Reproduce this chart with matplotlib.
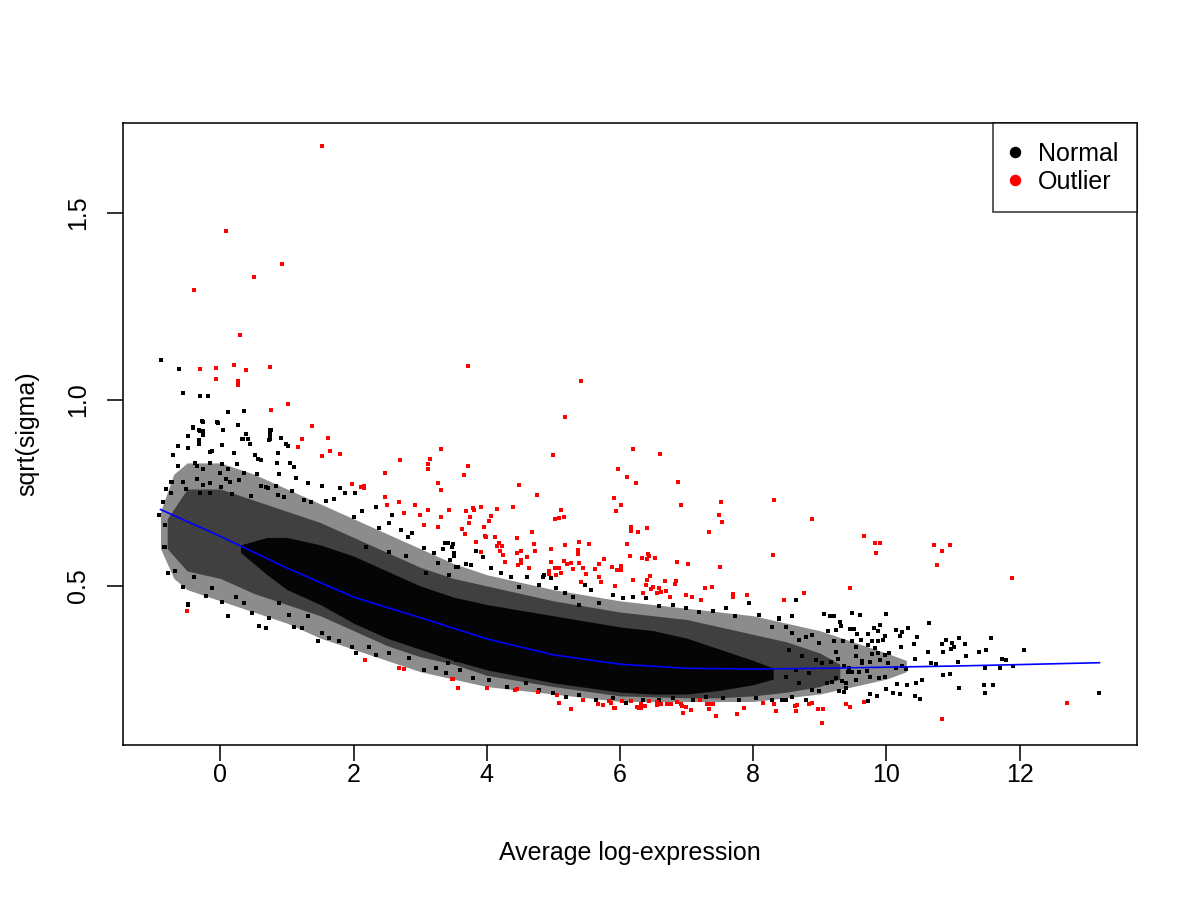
import numpy as np
from matplotlib import pyplot as plt
from matplotlib.lines import Line2D

plt.rcParams['font.family'] = ['Liberation Sans', 'DejaVu Sans']

# trend line (blue)
trend_x = [-0.9, 0, 1, 2, 3, 4, 5, 6, 7, 8, 9, 10, 11, 12, 13.2]
trend_y = [0.705, 0.633, 0.548, 0.470, 0.415, 0.358, 0.315, 0.290, 0.279, 0.277, 0.279, 0.282, 0.285, 0.289, 0.294]

# density bands of the black cloud (sparse / medium / solid)
outer_x = [-0.9, -0.7, -0.5, 0, 0.5, 1, 1.5, 2, 2.5, 3, 3.5, 4, 5, 6, 7, 8, 8.5, 9, 9.5, 10, 10.3]
outer_lo = [0.60, 0.52, 0.49, 0.46, 0.43, 0.40, 0.36, 0.33, 0.30, 0.27, 0.25, 0.23, 0.21, 0.19, 0.19, 0.19, 0.20, 0.21, 0.23, 0.25, 0.27]
outer_hi = [0.70, 0.80, 0.83, 0.83, 0.80, 0.76, 0.72, 0.68, 0.64, 0.60, 0.56, 0.53, 0.49, 0.46, 0.44, 0.42, 0.40, 0.38, 0.35, 0.32, 0.30]

mid_x = [-0.8, -0.5, 0, 0.5, 1, 1.5, 2, 2.5, 3, 3.5, 4, 5, 6, 7, 7.5, 8, 8.5, 9, 9.3]
mid_lo = [0.60, 0.54, 0.52, 0.48, 0.45, 0.42, 0.38, 0.34, 0.31, 0.29, 0.26, 0.23, 0.205, 0.20, 0.20, 0.205, 0.215, 0.23, 0.25]
mid_hi = [0.68, 0.76, 0.76, 0.73, 0.70, 0.67, 0.63, 0.59, 0.55, 0.52, 0.50, 0.46, 0.43, 0.41, 0.39, 0.37, 0.35, 0.32, 0.29]

core_x = [0.3, 0.7, 1.0, 1.5, 2, 2.5, 3, 3.5, 4, 5, 6, 6.5, 7, 7.5, 8, 8.3]
core_lo = [0.59, 0.53, 0.49, 0.45, 0.40, 0.36, 0.33, 0.30, 0.275, 0.24, 0.215, 0.21, 0.21, 0.22, 0.235, 0.25]
core_hi = [0.61, 0.63, 0.63, 0.61, 0.58, 0.54, 0.50, 0.47, 0.45, 0.42, 0.39, 0.38, 0.36, 0.33, 0.30, 0.28]

# loose black points around the cloud
black_x = [-0.90, -0.63, -0.57, -0.31, -0.18, 0.11, 0.35, -0.28, -0.05, 0.26, -0.42, -0.32, -0.27, -0.49, 0.04,
           0.38, 0.76, 0.75, 0.91, 0.34, 0.42, 0.75, -0.33,
           -0.41, -0.27, -0.04, 0.26, -0.49, -0.31, -0.27, 0.04, 0.39, 0.75, 0.74,
           -0.64, -0.49, -0.33, -0.32, 0.03, 0.32, 0.45, 0.73, 0.91, 0.98, 1.02,
           -0.72, -0.16, -0.12, 0.20, 0.52, 0.61, 0.87, 0.85,
           -0.64, -0.38, -0.36, -0.26, -0.16, 0.02, 0.11, 0.25, 0.57, 1.04, 1.11,
           -0.73, -0.56, -0.35, -0.27, -0.15, -0.01, 0.09, 0.15, 0.28, 0.36, 0.55, 0.68, 0.83, 0.88, 1.13, 1.31, 1.53,
           -0.82, -0.74, -0.52, -0.31, -0.16, 0.01, 0.18, 0.46, 0.61, 0.71, 0.86, 0.96, 1.08, 1.26, 1.36, 1.58, 1.70, 1.79, 1.87, 2.02,
           2.33, 2.00, 2.13, 2.57, 2.53, 2.38, 2.71, 2.88, 2.81, 2.18, 2.53, 2.78, 3.06, 3.21, 3.37, 3.48, 3.51, 3.53, 3.43, 3.26, 3.08,
           -0.85, -0.79, -0.69, -0.56, -0.49, -0.40, -0.22, -0.12, 0.03, 0.12, 0.23, 0.36, 0.47, 0.58, 0.69, 0.73, 0.88, 1.03,
           1.11, 1.23, 1.31, 1.46, 1.53, 1.63, 1.78, 1.98, 2.03, 2.23, 2.33, 2.53, 2.83, 3.06, 3.23, 3.41, 3.53,
           -0.92, -0.84, -0.79, -0.82, -0.74, -0.84, -0.87, -0.49,
           3.34, 3.41, 3.49, 3.51, 3.44, 3.56, 3.69, 3.76, 3.84, 3.94, 4.06, 4.21, 4.36, 4.49, 4.61, 4.79, 4.84, 4.96,
           5.04, 5.17, 5.29, 5.39, 5.47, 5.57, 5.69, 5.89, 6.04, 6.19, 6.39, 6.59, 6.79, 6.99, 7.19, 7.39, 7.59, 7.72,
           7.94, 8.09, 8.29, 8.39, 8.59, 8.64, 4.86,
           3.39, 3.59, 3.79, 4.04, 4.31, 4.59, 4.79, 4.99, 5.19, 5.39, 5.64, 5.89, 6.09, 6.34, 6.59, 6.79, 7.09, 7.29,
           7.54, 7.79, 8.04, 8.29, 8.49,
           8.39, 8.49, 8.59, 8.69, 8.79, 8.89, 8.99, 8.54, 8.74, 8.94, 8.49, 8.69, 8.89, 8.59, 8.79, 8.99, 8.44, 8.84, 8.64,
           9.06, 9.15, 9.21, 9.48, 9.61, 10.00, 9.31, 9.32, 9.12, 9.25, 9.45, 9.52, 9.90, 9.81, 9.88, 10.14, 10.23, 10.33,
           10.64, 9.56, 9.73, 9.98, 10.21, 10.46, 10.89, 11.09, 11.57, 10.98, 11.18, 12.07, 9.21, 9.35, 9.49, 9.62, 9.79,
           9.88, 9.95, 10.22, 10.41, 10.84, 11.02, 10.97, 10.62, 10.85, 11.39, 11.49, 11.19, 11.08, 11.74, 11.79, 11.70,
           11.48, 11.90, 10.67, 10.74, 10.43, 10.24, 10.14, 10.30, 10.85, 10.95, 10.45, 10.16, 10.31, 10.54, 10.10, 10.21,
           10.00, 10.43, 10.50, 11.09, 11.46, 11.60, 11.48, 13.19, 9.75, 9.86, 9.72, 9.55, 9.98, 9.75, 9.89, 9.59, 9.71,
           9.44, 9.48, 9.63, 9.75, 9.91, 10.02, 9.54, 9.64, 9.37, 9.42, 9.33, 9.39, 9.29, 9.37, 9.11, 9.18, 9.24, 9.39,
           10.04, 9.98, 9.79, 9.88, 9.72, 9.83, 9.54, 9.25, 9.28, 9.17, 9.04]
black_y = [1.105, 1.082, 1.017, 1.010, 1.009, 0.967, 0.968, 0.942, 0.939, 0.931, 0.925, 0.919, 0.915, 0.901, 0.918,
           0.907, 0.919, 0.915, 0.896, 0.893, 0.893, 0.893, 0.892,
           0.926, 0.941, 0.938, 0.931, 0.903, 0.915, 0.905, 0.918, 0.907, 0.918, 0.905,
           0.876, 0.870, 0.890, 0.881, 0.878, 0.894, 0.880, 0.891, 0.896, 0.882, 0.876,
           0.851, 0.858, 0.861, 0.856, 0.851, 0.838, 0.857, 0.829,
           0.823, 0.829, 0.822, 0.814, 0.831, 0.828, 0.813, 0.828, 0.841, 0.831, 0.818,
           0.780, 0.780, 0.786, 0.771, 0.777, 0.804, 0.788, 0.780, 0.783, 0.802, 0.800, 0.766, 0.768, 0.799, 0.789, 0.777, 0.769,
           0.759, 0.750, 0.759, 0.750, 0.750, 0.766, 0.747, 0.741, 0.768, 0.762, 0.744, 0.739, 0.755, 0.730, 0.726, 0.729, 0.732, 0.762, 0.750, 0.750,
           0.711, 0.686, 0.702, 0.690, 0.668, 0.655, 0.650, 0.641, 0.632, 0.605, 0.592, 0.579, 0.601, 0.587, 0.614, 0.605, 0.587, 0.552, 0.529, 0.561, 0.534,
           0.605, 0.536, 0.541, 0.498, 0.451, 0.525, 0.473, 0.494, 0.458, 0.420, 0.471, 0.455, 0.428, 0.393, 0.386, 0.413, 0.455, 0.422,
           0.391, 0.386, 0.418, 0.351, 0.373, 0.360, 0.351, 0.337, 0.319, 0.337, 0.315, 0.319, 0.306, 0.275, 0.279, 0.293, 0.302,
           0.689, 0.605, 0.536, 0.759, 0.780, 0.664, 0.726, 0.449,
           0.598, 0.614, 0.613, 0.579, 0.570, 0.552, 0.558, 0.556, 0.595, 0.577, 0.547, 0.534, 0.525, 0.498, 0.525, 0.503, 0.523, 0.521,
           0.494, 0.480, 0.471, 0.449, 0.503, 0.489, 0.454, 0.476, 0.467, 0.471, 0.467, 0.445, 0.449, 0.440, 0.431, 0.434, 0.440, 0.418,
           0.453, 0.422, 0.391, 0.413, 0.418, 0.463, 0.530,
           0.266, 0.275, 0.252, 0.248, 0.230, 0.239, 0.221, 0.212, 0.203, 0.208, 0.194, 0.199, 0.185, 0.194, 0.194, 0.199, 0.194, 0.203,
           0.199, 0.194, 0.199, 0.194, 0.194,
           0.411, 0.391, 0.373, 0.355, 0.364, 0.369, 0.346, 0.328, 0.311, 0.302, 0.257, 0.239, 0.221, 0.203, 0.194, 0.217, 0.194, 0.266, 0.275,
           0.424, 0.420, 0.420, 0.428, 0.422, 0.424, 0.404, 0.393, 0.379, 0.382, 0.384, 0.385, 0.396, 0.386, 0.378, 0.381, 0.377, 0.386,
           0.400, 0.371, 0.371, 0.366, 0.366, 0.363, 0.354, 0.359, 0.360, 0.348, 0.344, 0.328, 0.351, 0.353, 0.353, 0.355, 0.353,
           0.353, 0.355, 0.335, 0.343, 0.344, 0.337, 0.330, 0.324, 0.322, 0.322, 0.329, 0.313, 0.297, 0.303, 0.300, 0.280,
           0.280, 0.285, 0.294, 0.291, 0.303, 0.285, 0.279, 0.278, 0.260, 0.265, 0.239, 0.236, 0.233, 0.248, 0.213, 0.211,
           0.223, 0.204, 0.197, 0.225, 0.234, 0.234, 0.213, 0.212, 0.210, 0.204, 0.190, 0.248, 0.255, 0.257, 0.253, 0.269, 0.271,
           0.280, 0.270, 0.292, 0.295, 0.300, 0.294, 0.311, 0.299, 0.285, 0.270, 0.245, 0.239, 0.218, 0.215, 0.239, 0.243, 0.252, 0.225,
           0.321, 0.314, 0.317, 0.319, 0.342, 0.333, 0.337, 0.324, 0.304, 0.297, 0.293]

# outliers (red)
red_x = [1.52, 0.09, 0.92, 0.50, -0.40, 0.30, -0.31, -0.06, 0.20, 0.39, 0.74, -0.06, 0.26, 0.27, 1.01, 0.76, 1.37,
         1.61, 1.22, 1.17, 1.65, 1.80, 1.52, 2.70, 2.47, 3.11, 3.11, 3.14, 1.97, 2.11, 2.16, 2.15, 3.26, 3.31, 2.47,
         2.68, 2.50, 2.92, 2.76, 2.99, 3.12, 3.43, 3.31, 3.05, 3.26, 3.62, -0.50, 2.17, 2.68, 2.75, 3.48, 3.56,
         3.72, 5.42, 5.17, 3.31, 6.19, 6.60, 5.00, 3.72, 5.97, 3.65, 6.11, 6.87, 6.24, 4.48, 4.75, 5.91, 8.31, 6.92,
         6.01, 3.91, 3.79, 4.39, 7.52, 4.16, 3.69, 3.80, 5.11, 5.94, 7.48, 3.74, 4.06, 5.16, 5.03, 5.09, 3.73, 4.04,
         7.53, 6.17, 6.17, 6.27, 6.41, 3.95, 3.62, 3.67, 4.68, 7.34, 3.97, 3.99, 4.45, 4.13, 5.54, 5.39, 3.83, 4.19,
         4.71, 5.17, 6.11, 4.15, 4.23, 8.30, 4.96, 5.37, 4.72, 4.51, 4.45, 3.91, 4.20, 4.24, 5.37, 6.15, 6.42, 6.43,
         6.33, 6.41, 6.52, 4.60, 6.85, 7.02, 4.28, 4.52, 4.97, 5.16, 5.20, 5.26, 5.38, 5.44, 5.76, 5.69, 5.63, 5.88,
         6.01, 6.01, 5.95, 7.50, 4.47, 4.51, 4.64, 5.02, 5.08, 5.29, 4.94, 5.11, 5.04, 4.94, 5.49, 5.69, 5.72, 6.19,
         6.41, 6.45, 6.68, 6.84, 6.83, 5.41, 5.93, 6.39, 6.49, 7.27, 7.38, 6.58, 6.47, 6.61, 6.69, 6.55, 6.35, 6.99,
         7.08, 6.75, 7.21, 7.70, 7.69, 7.91, 8.46,
         3.49, 3.56, 4.00, 4.43, 4.46, 4.77, 5.06, 5.08, 5.26, 5.44, 5.67, 5.74, 5.84, 5.86, 5.91, 5.93, 6.03, 6.16,
         6.25, 6.28, 6.32, 6.31, 6.37, 6.44, 6.55, 6.55, 6.61, 6.70, 6.77, 6.85, 6.91, 6.93, 6.99, 6.94, 7.06, 7.20,
         7.30, 7.33, 7.37, 7.39, 7.44, 7.75, 7.86, 8.15, 8.32, 8.34, 8.64, 8.66,
         8.88, 9.66, 9.83, 9.90, 9.85, 10.71, 10.83, 10.95, 10.76, 11.88, 9.45, 8.77, 8.46,
         8.63, 8.66, 8.64, 8.84, 8.88, 8.97, 9.05, 9.04, 9.40, 9.45, 9.67, 10.84, 12.72]
red_y = [1.680, 1.452, 1.363, 1.330, 1.293, 1.172, 1.081, 1.084, 1.094, 1.078, 1.086, 1.055, 1.051, 1.038, 0.987, 0.971, 0.928,
         0.897, 0.895, 0.874, 0.862, 0.854, 0.848, 0.837, 0.804, 0.826, 0.815, 0.841, 0.773, 0.765, 0.762, 0.767, 0.775, 0.757, 0.739,
         0.724, 0.718, 0.716, 0.696, 0.691, 0.705, 0.705, 0.686, 0.663, 0.658, 0.653, 0.432, 0.301, 0.279, 0.278, 0.251, 0.226,
         1.089, 1.049, 0.952, 0.867, 0.868, 0.855, 0.850, 0.821, 0.815, 0.798, 0.791, 0.780, 0.775, 0.770, 0.743, 0.735, 0.731, 0.718,
         0.717, 0.713, 0.710, 0.711, 0.724, 0.707, 0.700, 0.703, 0.704, 0.700, 0.689, 0.686, 0.687, 0.684, 0.679, 0.681, 0.670, 0.673,
         0.671, 0.659, 0.647, 0.646, 0.655, 0.657, 0.652, 0.639, 0.645, 0.646, 0.635, 0.631, 0.628, 0.630, 0.613, 0.617, 0.618, 0.616,
         0.612, 0.610, 0.612, 0.608, 0.606, 0.584, 0.599, 0.597, 0.594, 0.593, 0.589, 0.590, 0.593, 0.582, 0.585, 0.581, 0.586, 0.581,
         0.574, 0.572, 0.576, 0.577, 0.564, 0.558, 0.564, 0.569, 0.563, 0.566, 0.558, 0.562, 0.561, 0.549, 0.571, 0.559, 0.546, 0.550,
         0.554, 0.543, 0.543, 0.550, 0.555, 0.561, 0.547, 0.548, 0.547, 0.546, 0.539, 0.534, 0.528, 0.531, 0.531, 0.524, 0.510, 0.516,
         0.516, 0.526, 0.513, 0.513, 0.504, 0.510, 0.499, 0.502, 0.498, 0.494, 0.498, 0.494, 0.492, 0.483, 0.487, 0.481, 0.481, 0.475,
         0.469, 0.469, 0.463, 0.477, 0.469, 0.475, 0.463,
         0.251, 0.225, 0.226, 0.221, 0.224, 0.216, 0.207, 0.185, 0.169, 0.195, 0.183, 0.180, 0.192, 0.185, 0.173, 0.173, 0.192, 0.191,
         0.175, 0.173, 0.173, 0.184, 0.179, 0.190, 0.180, 0.188, 0.183, 0.184, 0.183, 0.188, 0.182, 0.178, 0.174, 0.159, 0.166, 0.193,
         0.183, 0.169, 0.183, 0.182, 0.150, 0.157, 0.173, 0.185, 0.183, 0.164, 0.165, 0.180,
         0.679, 0.633, 0.614, 0.614, 0.588, 0.610, 0.593, 0.609, 0.555, 0.521, 0.495, 0.480, 0.462,
         0.178, 0.181, 0.165, 0.184, 0.186, 0.169, 0.169, 0.131, 0.183, 0.175, 0.188, 0.142, 0.187]

fig = plt.figure(figsize=(8, 6), dpi=150)
ax = fig.add_axes([0.1025, 0.1722, 0.845, 0.6911])

ax.fill_between(outer_x, outer_lo, outer_hi, color='0.55', lw=0)
ax.fill_between(mid_x, mid_lo, mid_hi, color='0.25', lw=0)
ax.fill_between(core_x, core_lo, core_hi, color='0.02', lw=0)
ax.scatter(black_x, black_y, s=2.2, c='black', marker='s', linewidths=0)
ax.scatter(red_x, red_y, s=2.2, c='red', marker='s', linewidths=0)
ax.plot(trend_x, trend_y, color='blue', lw=0.8)

ax.set_xlim(-1.464, 13.764)
ax.set_ylim(0.0732, 1.7418)
ax.set_xticks([0, 2, 4, 6, 8, 10, 12])
ax.set_yticks([0.5, 1.0, 1.5])
ax.set_yticklabels(['0.5', '1.0', '1.5'], rotation=90, va='center')
ax.tick_params(length=7.7, width=0.75, labelsize=12)
ax.tick_params(axis='x', pad=1)
ax.tick_params(axis='y', pad=8)
for sp in ax.spines.values():
    sp.set_linewidth(0.75)
ax.set_xlabel('Average log-expression', fontsize=12, labelpad=26)
ax.set_ylabel('sqrt(sigma)', fontsize=12, labelpad=13)

handles = [Line2D([], [], ls='', marker='o', color='black', markersize=4.5),
           Line2D([], [], ls='', marker='o', color='red', markersize=4.5)]
leg = ax.legend(handles, ['Normal', 'Outlier'], loc='upper right', borderaxespad=0,
                fancybox=False, edgecolor='black', fontsize=12, handlelength=0.3,
                handletextpad=0.75, borderpad=0.75, labelspacing=0.15)
leg.get_frame().set_linewidth(0.75)

fig.savefig('out.png', dpi=150, facecolor='white')
